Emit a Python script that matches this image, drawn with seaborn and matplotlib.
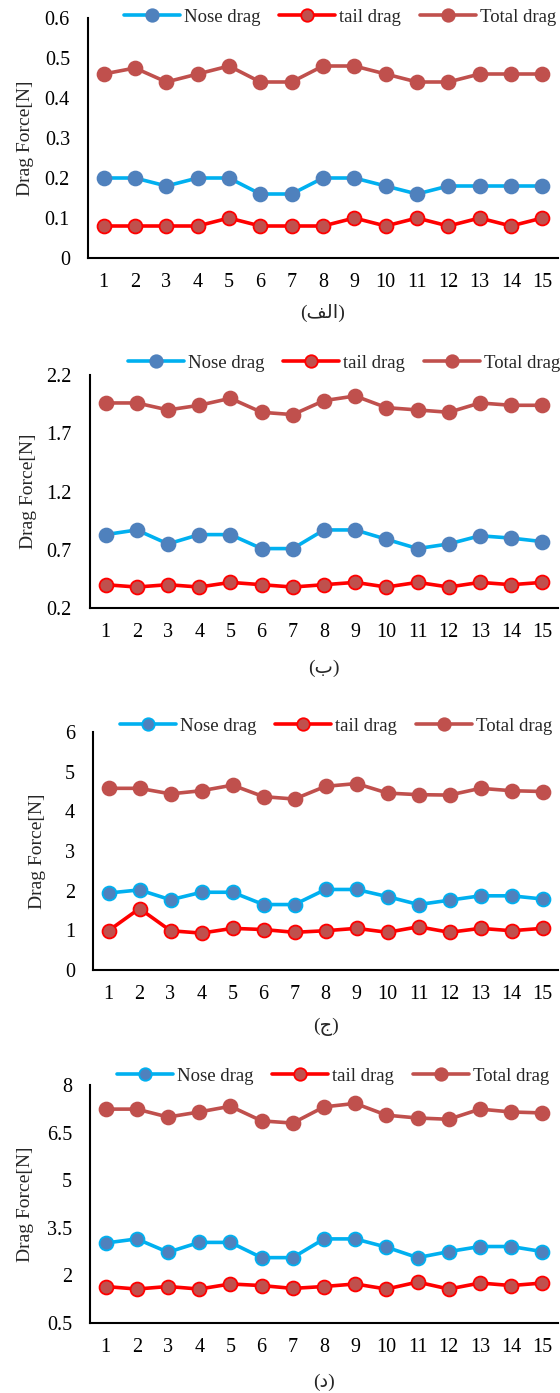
import matplotlib
matplotlib.use("Agg")
import matplotlib.pyplot as plt
import seaborn as sns
import pandas as pd

# ---------------- data ----------------
cases = list(range(1, 16))
series_names = ["Nose drag", "tail drag", "Total drag"]

nose_a = [0.20, 0.20, 0.18, 0.20, 0.20, 0.16, 0.16, 0.20, 0.20, 0.18, 0.16, 0.18, 0.18, 0.18, 0.18]
tail_a = [0.08, 0.08, 0.08, 0.08, 0.10, 0.08, 0.08, 0.08, 0.10, 0.08, 0.10, 0.08, 0.10, 0.08, 0.10]
total_a = [0.46, 0.475, 0.44, 0.46, 0.48, 0.44, 0.44, 0.48, 0.48, 0.46, 0.44, 0.44, 0.46, 0.46, 0.46]

nose_b = [0.83, 0.87, 0.75, 0.83, 0.83, 0.71, 0.71, 0.87, 0.87, 0.79, 0.71, 0.75, 0.82, 0.80, 0.77]
tail_b = [0.40, 0.38, 0.40, 0.38, 0.42, 0.40, 0.38, 0.40, 0.42, 0.38, 0.42, 0.38, 0.42, 0.40, 0.42]
total_b = [1.96, 1.96, 1.90, 1.94, 2.00, 1.88, 1.86, 1.98, 2.02, 1.92, 1.90, 1.88, 1.96, 1.94, 1.94]

nose_c = [1.94, 2.02, 1.77, 1.96, 1.96, 1.65, 1.65, 2.03, 2.03, 1.85, 1.65, 1.76, 1.87, 1.87, 1.79]
tail_c = [0.99, 1.55, 0.99, 0.93, 1.05, 1.02, 0.95, 0.99, 1.05, 0.95, 1.09, 0.95, 1.05, 0.99, 1.05]
total_c = [4.58, 4.58, 4.44, 4.52, 4.66, 4.37, 4.31, 4.63, 4.70, 4.46, 4.42, 4.41, 4.58, 4.52, 4.50]

nose_d = [3.02, 3.15, 2.73, 3.04, 3.04, 2.56, 2.56, 3.15, 3.15, 2.89, 2.56, 2.75, 2.91, 2.91, 2.75]
tail_d = [1.65, 1.57, 1.65, 1.57, 1.73, 1.68, 1.59, 1.65, 1.73, 1.57, 1.79, 1.57, 1.76, 1.68, 1.76]
total_d = [7.24, 7.24, 6.99, 7.15, 7.33, 6.87, 6.80, 7.31, 7.42, 7.05, 6.96, 6.92, 7.24, 7.15, 7.12]

yticks_a = [0, 0.1, 0.2, 0.3, 0.4, 0.5, 0.6]
ylabels_a = ["0", "0.1", "0.2", "0.3", "0.4", "0.5", "0.6"]
yticks_b = [0.2, 0.7, 1.2, 1.7, 2.2]
ylabels_b = ["0.2", "0.7", "1.2", "1.7", "2.2"]
yticks_c = [0, 1, 2, 3, 4, 5, 6]
ylabels_c = ["0", "1", "2", "3", "4", "5", "6"]
yticks_d = [0.5, 2, 3.5, 5, 6.5, 8]
ylabels_d = ["0.5", "2", "3.5", "5", "6.5", "8"]

# panel captions (Persian letters; "الف" written in joined presentation forms, visual order)
captions = ["(\ufed2\ufedf\ufe8d)", "(\u0628)", "(\u062c)", "(\u062f)"]
y_title = "Drag Force[N]"

panels = [
    (nose_a, tail_a, total_a, yticks_a, ylabels_a),
    (nose_b, tail_b, total_b, yticks_b, ylabels_b),
    (nose_c, tail_c, total_c, yticks_c, ylabels_c),
    (nose_d, tail_d, total_d, yticks_d, ylabels_d),
]

# ---------------- style ----------------
sns.set_style("white")
plt.rcParams["font.family"] = ["Liberation Serif", "DejaVu Sans"]

W, H = 560, 1393
fig = plt.figure(figsize=(W / 100, H / 100), dpi=100)

# axes boxes in pixels: left, top, right, bottom
boxes = [(88, 18, 558, 258), (90, 375, 558, 608), (93, 732, 558, 970), (90, 1085, 558, 1323)]
ylabel_right_px = [34, 37, 46, 34]
caption_y_px = [313, 668, 1027, 1382]
legend_pos_px = [(340, 17), (344, 363), (336, 726), (333, 1076)]

NOSE_LINE, NOSE_FACE = "#00B0F0", "#4F81BD"
TAIL_LINE, TAIL_FACE = "#FF0000", "#C0504D"
TOT = "#C0504D"

for i, (nose, tail, total, yt, yl) in enumerate(panels):
    l, t, r, b = boxes[i]
    ax = fig.add_axes([l / W, 1 - b / H, (r - l) / W, (b - t) / H])
    nose_edge = NOSE_FACE if i < 2 else NOSE_LINE
    styles = [
        (nose, NOSE_LINE, NOSE_FACE, nose_edge),
        (tail, TAIL_LINE, TAIL_FACE, TAIL_LINE),
        (total, TOT, TOT, TOT),
    ]
    for name, (vals, lc, fc, ec) in zip(series_names, styles):
        df = pd.DataFrame({"case": cases, "value": vals})
        sns.lineplot(data=df, x="case", y="value", ax=ax, color=lc, marker="o",
                     markersize=10, markerfacecolor=fc, markeredgecolor=ec,
                     markeredgewidth=1.3, linewidth=2.6, label=name, clip_on=False)
    ax.set_xlim(0.5, 15.5)
    ax.set_ylim(yt[0], yt[-1])
    ax.set_xticks(cases)
    ax.set_xticklabels([str(c) for c in cases])
    ax.set_yticks(yt)
    ax.set_yticklabels(yl)
    ax.tick_params(axis="both", length=0, labelsize=14.5, colors="black")
    ax.tick_params(axis="y", pad=13)
    ax.tick_params(axis="x", pad=11)
    for s in ["top", "right"]:
        ax.spines[s].set_visible(False)
    for s in ["left", "bottom"]:
        ax.spines[s].set_color("black")
        ax.spines[s].set_linewidth(1.5)
    ax.set_xlabel("")
    ax.set_ylabel(y_title, fontsize=14)
    ax.yaxis.set_label_coords((ylabel_right_px[i] - l) / (r - l), 0.5)
    ax.text(0.5, (b - caption_y_px[i]) / (b - t), captions[i], transform=ax.transAxes,
            ha="center", va="center", fontsize=14)
    lx, ly = legend_pos_px[i]
    ax.legend(loc="center", bbox_to_anchor=((lx - l) / (r - l), (b - ly) / (b - t)),
              ncol=3, frameon=False, fontsize=13.5, handlelength=3.0, handletextpad=0.2,
              columnspacing=1.0, borderaxespad=0, borderpad=0, markerscale=0.9)

fig.savefig("out.png", dpi=100)
